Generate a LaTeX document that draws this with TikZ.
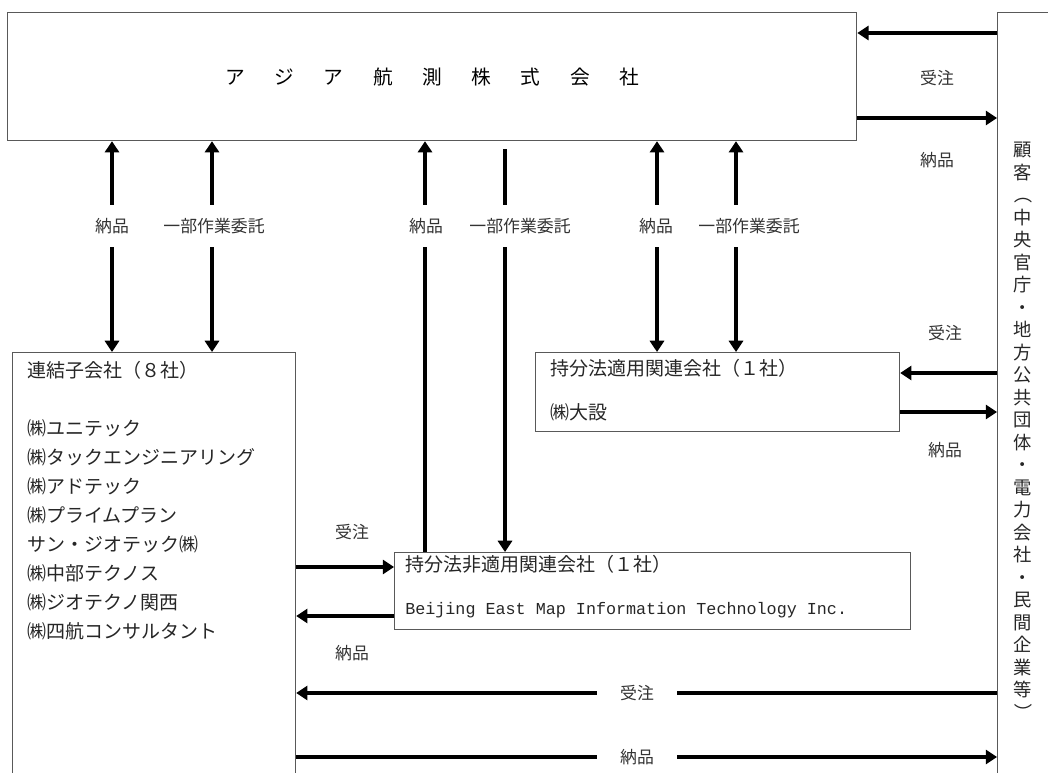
\documentclass[tikz,border=0pt]{standalone}
\usepackage{fontspec}
\newfontfamily\jp{Noto Sans CJK JP}
\newfontfamily\mono{Liberation Mono}
\usetikzlibrary{arrows.meta}

\begin{document}
\begin{tikzpicture}[x = 0.025cm, y = -0.025cm,
  box/.style = {draw = black!65, line width = 0.8pt, inner sep = 0,
    anchor = north west},
  txt/.style = {font = \jp\fontsize{13.5}{16}\selectfont, text = black!85,
    anchor = west, inner sep = 0},
  lbl/.style = {font = \jp\fontsize{12}{14}\selectfont, text = black!80,
    inner sep = 0, minimum width = 2cm, minimum height = 1.05cm},
  bar/.style = {line width = 2.6pt},
  flow/.style = {bar, -{Triangle[length = 8pt, width = 10pt]}}]
  \useasboundingbox (0, 0) rectangle (1048, 773);
  \clip (0, 0) rectangle (1048, 773);

  % boxes
  \node[box, minimum width = 21.225cm, minimum height = 3.2cm,
  font = \jp\fontsize{14}{16}\selectfont] (asia) at (7, 12)
  {ア\hspace{.74cm}ジ\hspace{.74cm}ア\hspace{.74cm}航\hspace{.74cm}測\hspace{.74cm}株\hspace{.74cm}式\hspace{.74cm}会\hspace{.74cm}社};
  \node[box, minimum width = 1.825cm, minimum height = 19.7cm] (kokyaku) at
  (997, 12) {};
  \node[font = \jp\fontsize{13}{16}\selectfont, align = center,
  text = black!85, inner sep = 0] (kokyakutxt) at (1023, 432)
  {顧\\客\\\rotatebox[origin = c]{-90}{（}\\中\\央\\官\\庁\\・\\地\\方\\公\\共\\団\\体\\・\\電\\力\\会\\社\\・\\民\\間\\企\\業\\等\\\rotatebox[origin = c]{-90}{）}};
  \node[box, minimum width = 7.075cm, minimum height = 11.2cm] (renketsu) at
  (12, 352) {};
  \node[box, minimum width = 9.1cm, minimum height = 1.975cm] (tekiyou) at
  (535, 352) {};
  \node[box, minimum width = 12.9cm, minimum height = 1.925cm] (hitekiyou) at
  (394, 552) {};

  % box texts
  \node[txt] (rtitle) at (27, 370) {連結子会社（８社）};
  \foreach \name [count = \i] in {㈱ユニテック, ㈱タックエンジニアリング,
    ㈱アドテック, ㈱プライムプラン, サン・ジオテック㈱, ㈱中部テクノス,
    ㈱ジオテクノ関西, ㈱四航コンサルタント}
    \node[txt] (r\i) at (27, {428 + 29 * (\i - 1)}) {\name};
  \node[txt] (ttitle) at (550, 368) {持分法適用関連会社（１社）};
  \node[txt] (tname) at (550, 412) {㈱大設};
  \node[txt] (htitle) at (405, 564) {持分法非適用関連会社（１社）};
  \node[txt, font = \mono\fontsize{11.9}{14}\selectfont] (hname) at (405, 610)
  {Beijing East Map Information Technology Inc.};

  % customer side
  \draw[flow] (kokyaku.west |- 0, 33) -- (asia.east |- 0, 33);
  \draw[flow] (asia.east |- 0, 118) -- (kokyaku.west |- 0, 118);
  \node[lbl] (ju1) at (937, 78) {受注};
  \node[lbl] (no1) at (937, 160) {納品};

  \draw[flow] (kokyaku.west |- 0, 373) -- (tekiyou.east |- 0, 373);
  \draw[flow] (tekiyou.east |- 0, 412) -- (kokyaku.west |- 0, 412);
  \node[lbl] (ju2) at (945, 333) {受注};
  \node[lbl] (no2) at (945, 450) {納品};

  % subsidiaries and the non-equity affiliate
  \draw[flow] (renketsu.east |- 0, 567) -- (hitekiyou.west |- 0, 567);
  \draw[flow] (hitekiyou.west |- 0, 616) -- (renketsu.east |- 0, 616);
  \node[lbl] (ju3) at (352, 532) {受注};
  \node[lbl] (no3) at (352, 653) {納品};

  \node[lbl] (ju4) at (637, 693) {受注};
  \draw[bar] (kokyaku.west |- ju4) -- (ju4);
  \draw[flow] (ju4) -- (renketsu.east |- ju4);
  \node[lbl] (no4) at (637, 757) {納品};
  \draw[bar] (renketsu.east |- no4) -- (no4);
  \draw[flow] (no4) -- (kokyaku.west |- no4);

  % vertical links
  \coordinate (v1) at (112, 0);
  \coordinate (v2) at (212, 0);
  \coordinate (v3) at (425, 0);
  \coordinate (v4) at (505, 0);
  \coordinate (v5) at (657, 0);
  \coordinate (v6) at (736, 0);
  \node[lbl] (no5) at (112, 226) {納品};
  \node[lbl] (ic1) at (214, 226) {一部作業委託};
  \node[lbl] (no6) at (426, 226) {納品};
  \node[lbl] (ic2) at (520, 226) {一部作業委託};
  \node[lbl] (no7) at (656, 226) {納品};
  \node[lbl] (ic3) at (749, 226) {一部作業委託};

  \draw[flow] (no5.north -| v1) -- (asia.south -| v1);
  \draw[flow] (no5.south -| v1) -- (renketsu.north -| v1);
  \draw[flow] (ic1.north -| v2) -- (asia.south -| v2);
  \draw[flow] (ic1.south -| v2) -- (renketsu.north -| v2);

  \draw[flow] (no6.north -| v3) -- (asia.south -| v3);
  \draw[bar] (no6.south -| v3) -- (hitekiyou.north -| v3);
  \draw[bar] ([yshift = -0.2cm]asia.south -| v4) -- (ic2.north -| v4);
  \draw[flow] (ic2.south -| v4) -- (hitekiyou.north -| v4);

  \draw[flow] (no7.north -| v5) -- (asia.south -| v5);
  \draw[flow] (no7.south -| v5) -- (tekiyou.north -| v5);
  \draw[flow] (ic3.north -| v6) -- (asia.south -| v6);
  \draw[flow] (ic3.south -| v6) -- (tekiyou.north -| v6);
\end{tikzpicture}
\end{document}
